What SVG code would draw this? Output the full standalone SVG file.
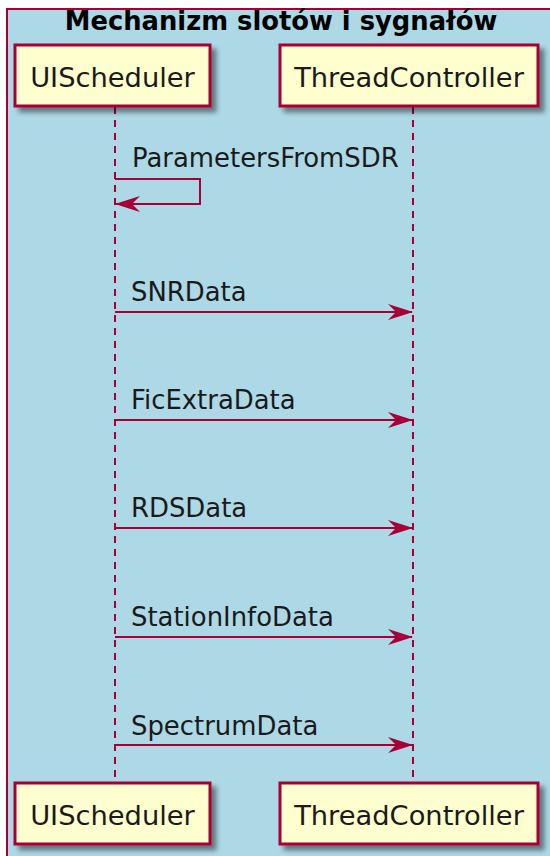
<svg xmlns="http://www.w3.org/2000/svg" width="550" height="856" viewBox="0 0 550 856">
<defs>
<filter id="sh" x="-10%" y="-10%" width="130%" height="140%">
<feGaussianBlur in="SourceAlpha" stdDeviation="2.5"/>
<feOffset dx="5" dy="5" result="b"/>
<feComponentTransfer><feFuncA type="linear" slope="0.45"/></feComponentTransfer>
<feMerge><feMergeNode/><feMergeNode in="SourceGraphic"/></feMerge>
</filter>
<marker id="ah" viewBox="0 0 26 16" refX="25" refY="8" markerWidth="26" markerHeight="16" markerUnits="userSpaceOnUse" orient="auto">
<polygon points="26,8 1,0 9,8 1,16" fill="#A80036"/>
</marker>
</defs>
<style>
.box{fill:#FEFECE;stroke:#A80036;stroke-width:3}
.pt{font-family:"DejaVu Sans",sans-serif;font-size:27.3px;fill:#1a1a1a;text-anchor:middle}
.mt{font-family:"DejaVu Sans",sans-serif;font-size:25.9px;fill:#1a1a1a}
.ll{stroke:#A80036;stroke-width:2;stroke-dasharray:7,6;fill:none}
.msg{stroke:#A80036;stroke-width:2;fill:none}
</style>
<g id="frame">
<rect x="7" y="9" width="560" height="860" fill="#ADD8E6" stroke="#A80036" stroke-width="2"/>
<text x="281" y="30" font-family="DejaVu Sans, sans-serif" font-size="25.8px" font-weight="bold" text-anchor="middle" fill="#000">Mechanizm slotów i sygnałów</text>
</g>
<g id="lifelines">
<line class="ll" x1="115" y1="107" x2="115" y2="782"/>
<line class="ll" x1="413" y1="107" x2="413" y2="782"/>
</g>
<g id="UIScheduler">
<rect class="box" x="15" y="45" width="195" height="61" filter="url(#sh)"/>
<text class="pt" x="112.5" y="87">UIScheduler</text>
</g>
<g id="ThreadController">
<rect class="box" x="280" y="45" width="258" height="61" filter="url(#sh)"/>
<text class="pt" x="409" y="87">ThreadController</text>
</g>
<g id="UIScheduler_bottom">
<rect class="box" x="15" y="783" width="195" height="61" filter="url(#sh)"/>
<text class="pt" x="112.5" y="825">UIScheduler</text>
</g>
<g id="ThreadController_bottom">
<rect class="box" x="280" y="783" width="258" height="61" filter="url(#sh)"/>
<text class="pt" x="409" y="825">ThreadController</text>
</g>
<g id="connectors">
<polyline class="msg" points="115,179 200,179 200,204 116,204" marker-end="url(#ah)"/>
<text class="mt" x="132" y="167">ParametersFromSDR</text>
<line class="msg" x1="115" y1="312" x2="412" y2="312" marker-end="url(#ah)"/>
<text class="mt" x="131" y="301">SNRData</text>
<line class="msg" x1="115" y1="420" x2="412" y2="420" marker-end="url(#ah)"/>
<text class="mt" x="131" y="409">FicExtraData</text>
<line class="msg" x1="115" y1="528" x2="412" y2="528" marker-end="url(#ah)"/>
<text class="mt" x="131" y="517">RDSData</text>
<line class="msg" x1="115" y1="637" x2="412" y2="637" marker-end="url(#ah)"/>
<text class="mt" x="131" y="626">StationInfoData</text>
<line class="msg" x1="115" y1="745" x2="412" y2="745" marker-end="url(#ah)"/>
<text class="mt" x="131" y="735">SpectrumData</text>
</g>
</svg>
